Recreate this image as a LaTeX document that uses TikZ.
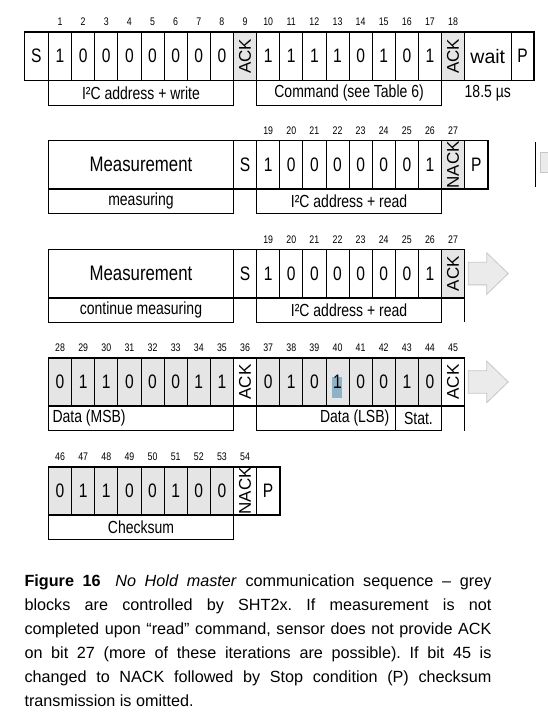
\documentclass[tikz,border=0pt]{standalone}
\usepackage{fontspec}
\setmainfont{Liberation Sans}
\newfontfamily\narrowsf[FakeStretch=0.8]{Liberation Sans}
\usepackage{graphicx}
\usetikzlibrary{positioning}

\tikzset{
  bitcell/.style={draw=black,line width=0.8pt,minimum width=23.12pt,minimum height=48.5pt,inner sep=0pt,outer sep=0pt,anchor=north west,font=\narrowsf\fontsize{19.5}{20}\selectfont},
  slave/.style={bitcell,fill=black!10},
  lblbox/.style={draw=black,line width=0.8pt,minimum width=184.96pt,minimum height=24.5pt,inner sep=0pt,outer sep=0pt,anchor=north west,font=\narrowsf\fontsize{17.5}{18}\selectfont},
  bitno/.style={inner sep=0pt,anchor=base,font=\narrowsf\fontsize{11}{12}\selectfont},
  frame/.style={draw=black,line width=1.6pt},
  greyarrow/.style={draw=black!22,fill=black!8,line width=0.8pt},
  hilite/.style={path picture={\fill[fill={rgb,255:red,143;green,178;blue,201}] ([shift={(-5.8pt,5.25pt)}]path picture bounding box.center) rectangle ++(10pt,-21pt);}},
}
\newcommand{\ackrot}[1]{\rotatebox{90}{\normalfont\fontsize{17}{17}\selectfont #1}}

\begin{document}
\begin{tikzpicture}[x=1pt,y=-1pt]
\useasboundingbox (0,0) rectangle (547,719);

\node[bitcell,minimum width=24.2pt] (s1) at (24.3,32) {S};
\foreach \v [count=\k] in {1,0,0,0,0,0,0,0}
  \node[bitcell] (bit\k) at ({48.5+23.12*(\k-1)},32) {\v};
\node[slave] (bit9) at (233.46,32) {\ackrot{ACK}};
\foreach \v [count=\k from 10] in {1,1,1,1,0,1,0,1}
  \node[bitcell] (bit\k) at ({48.5+23.12*(\k-1)},32) {\v};
\node[slave] (bit18) at (441.54,32) {\ackrot{ACK}};
\node[bitcell,minimum width=46.24pt,font=\normalfont\fontsize{19.5}{20}\selectfont] (wait1) at (464.66,32) {wait};
\node[bitcell] (p1) at (510.9,32) {P};
\draw[frame] (s1.north west) rectangle (p1.south east);
\foreach \k in {1,...,18}
  \node[bitno] (n\k) at ([yshift=6pt]bit\k.north) {\k};
\node[lblbox] (adrw) at (48.5,80.5) {I²C address + write};
\node[lblbox] (cmd) at (256.58,80.5) {Command (see Table 6)};
\node[lblbox,draw=none,minimum width=92.48pt] (t185) at (441.54,80.5) {18.5 µs};

\node[bitcell,minimum width=184.96pt,font=\narrowsf\fontsize{21}{22}\selectfont] (meas1) at (48.5,140.5) {Measurement};
\node[bitcell] (s2) at (233.46,140.5) {S};
\foreach \v [count=\k from 19] in {1,0,0,0,0,0,0,1}
  \node[bitcell] (rd\k) at ({48.5+23.12*(\k-10)},140.5) {\v};
\node[slave] (rd27) at (441.54,140.5) {\ackrot{NACK}};
\node[bitcell] (p2) at (464.66,140.5) {P};
\draw[frame] (meas1.north west) rectangle (p2.south east);
\foreach \k in {19,...,27}
  \node[bitno] (na\k) at ([yshift=6pt]rd\k.north) {\k};
\node[lblbox] (measuring) at (48.5,189) {measuring};
\node[lblbox] (adrr1) at (256.58,189) {I²C address + read};
\draw[line width=0.8pt] (535,142) -- (535,187);
\draw[greyarrow] (540.5,152.7) rectangle (552,172.7);

\node[bitcell,minimum width=184.96pt,font=\narrowsf\fontsize{21}{22}\selectfont] (meas2) at (48.5,249.3) {Measurement};
\node[bitcell] (s3) at (233.46,249.3) {S};
\foreach \v [count=\k from 19] in {1,0,0,0,0,0,0,1}
  \node[bitcell] (rp\k) at ({48.5+23.12*(\k-10)},249.3) {\v};
\node[slave] (rp27) at (441.54,249.3) {\ackrot{ACK}};
\draw[frame] (meas2.north west) rectangle (rp27.south east);
\foreach \k in {19,...,27}
  \node[bitno] (nb\k) at ([yshift=6pt]rp\k.north) {\k};
\node[lblbox] (contmeas) at (48.5,297.8) {continue measuring};
\node[lblbox] (adrr2) at (256.58,297.8) {I²C address + read};
\draw[line width=0.8pt] (rp27.south east) -- (rp27.south east |- adrr2.south);
\draw[greyarrow] ([xshift=3.6pt,yshift=11.3pt]rp27.east) -- ++(18.4pt,0pt) -- ++(0pt,9.5pt) -- ++(21.6pt,-20.8pt) -- ++(-21.6pt,-20.8pt) -- ++(0pt,9.5pt) -- ++(-18.4pt,0pt) -- cycle;

\foreach \v [count=\k from 28] in {0,1,1,0,0,0,1,1}
  \node[slave] (d\k) at ({48.5+23.12*(\k-28)},357.7) {\v};
\node[bitcell] (d36) at (233.46,357.7) {\ackrot{ACK}};
\foreach \v [count=\k from 37] in {0,1,0}
  \node[slave] (d\k) at ({48.5+23.12*(\k-28)},357.7) {\v};
\node[slave,hilite] (d40) at ({48.5+23.12*12},357.7) {1};
\foreach \v [count=\k from 41] in {0,0,1,0}
  \node[slave] (d\k) at ({48.5+23.12*(\k-28)},357.7) {\v};
\node[bitcell] (d45) at (441.54,357.7) {\ackrot{ACK}};
\draw[frame] (d28.north west) rectangle (d45.south east);
\foreach \k in {28,...,45}
  \node[bitno] (n\k) at ([yshift=6pt]d\k.north) {\k};
\node[lblbox,text width=176.96pt,align=flush left,inner xsep=4pt] (msb) at (48.5,406.2) {Data (MSB)};
\node[lblbox,minimum width=138.72pt,text width=126.72pt,align=flush right,inner xsep=6pt] (lsb) at (256.58,406.2) {Data (LSB)};
\node[lblbox,minimum width=46.24pt] (stat) at (395.3,406.2) {Stat.};
\draw[line width=0.8pt] (d45.south east) -- (d45.south east |- stat.south);
\draw[greyarrow] ([xshift=3.6pt,yshift=11.3pt]d45.east) -- ++(18.4pt,0pt) -- ++(0pt,9.5pt) -- ++(21.6pt,-20.8pt) -- ++(-21.6pt,-20.8pt) -- ++(0pt,9.5pt) -- ++(-18.4pt,0pt) -- cycle;

\foreach \v [count=\k from 46] in {0,1,1,0,0,1,0,0}
  \node[slave] (d\k) at ({48.5+23.12*(\k-46)},466.7) {\v};
\node[bitcell] (d54) at (233.46,466.7) {\ackrot{NACK}};
\node[bitcell] (p5) at (256.58,466.7) {P};
\draw[frame] (d46.north west) rectangle (p5.south east);
\foreach \k in {46,...,54}
  \node[bitno] (n\k) at ([yshift=6pt]d\k.north) {\k};
\node[lblbox] (chk) at (48.5,515.2) {Checksum};

\node[anchor=north west,inner sep=0pt,text width=467pt,align=justify,font=\fontsize{16.2}{24}\selectfont] (caption) at (24.3,575) {\tolerance=10000\frenchspacing \textbf{Figure 16}\hspace{0.9em}\textit{No Hold master} communication sequence -- grey\linebreak blocks are controlled by SHT2x. If measurement is not\linebreak completed upon “read” command, sensor does not provide ACK\linebreak on bit~27 (more of these iterations are possible). If bit~45 is\linebreak changed to NACK followed by Stop condition (P) checksum\linebreak transmission is omitted.};
\end{tikzpicture}
\end{document}
